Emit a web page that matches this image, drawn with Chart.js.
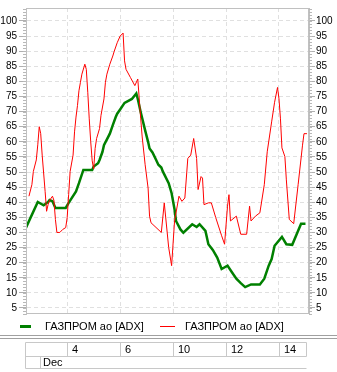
<!DOCTYPE html>
<html lang="ru">
<head>
<meta charset="UTF-8">
<title>ГАЗПРОМ ао [ADX]</title>
<script src="https://cdn.jsdelivr.net/npm/chart.js"></script>
<style>
  html, body { margin: 0; padding: 0; background: #fff; }
  #wrap { width: 337px; height: 372px; }
</style>
</head>
<body>
<div id="wrap"><canvas id="grafico" width="337" height="372"></canvas></div>
<script>
// hour index of the point (9 trading hours per day) and the indicator value
const verdeX = [0, 4, 6, 7.5, 8, 9, 10, 13.5, 14.5, 17, 18, 19.5, 22.5, 23, 24.5, 25, 26, 26.5, 28.5, 29.5,
  30.5, 31, 32, 33.5, 36, 37.5, 38, 39, 40.5, 41.5, 42, 43, 44, 45, 46, 46.5, 48.5, 49.5, 50.5, 51,
  52.5, 53.5, 56.5, 58, 59, 61, 62, 63.5, 65, 66.5, 68.5, 70, 71.5, 73, 74.5, 76.5, 79.5, 81, 82.5,
  83.5, 84.5, 87, 88.5, 90.5, 93.5, 95];
const verdeY = [31.6, 40.1, 39, 40.1, 40.7, 40.3, 38.1, 38.1, 39.8, 43.6, 46.3, 50.7, 50.7, 51.8, 52.9, 54, 56.7, 58.9, 62.7, 65.5,
  68.2, 69.3, 70.7, 72.9, 74.2, 76, 74.2, 69.8, 63.8, 60, 57.8, 56.5, 54.5, 52.4, 51.5, 50.2, 46.3, 43, 37.6, 33.8,
  31, 29.9, 32.7, 31.8, 32.7, 30.5, 26.1, 24.2, 21.7, 17.9, 19, 16.8, 14.7, 13.2, 11.9, 12.8, 12.8, 14.7, 19,
  21.2, 25.6, 28.5, 26.1, 25.9, 32.9, 32.9];

const rojoX = [1, 2, 2.5, 3.5, 4, 4.5, 5, 5.5, 6.5, 7, 7.5, 8, 9, 9.5, 10, 10.5, 11.5, 12.5, 13.5, 14,
  14.5, 15, 16, 16.5, 17, 17.5, 18, 18.5, 19, 20, 20.5, 21, 21.5, 22, 22.5, 23, 23.5, 24, 25, 25.5,
  26.5, 27, 27.5, 28.5, 29.5, 30, 31, 32, 33, 33.5, 34, 35.5, 37, 38, 39, 39.5, 40.5, 41.5, 42, 42.5,
  46, 47, 48.5, 49.5, 50.5, 52, 53, 54, 55, 56, 57, 58, 58.5, 59.5, 60, 60.5, 62, 63, 64.5, 66.5,
  67.5, 68.5, 69, 69.5, 71.5, 73, 75, 76, 76.5, 78, 79.5, 81, 82, 83.5, 84.5, 85.5, 86, 86.5, 87, 88,
  88.5, 89.5, 91, 92.5, 94, 94.5, 95.5];
const rojoY = [42, 45.8, 50.2, 54, 59, 65, 62.7, 55.6, 43.6, 37, 39.2, 40.6, 42, 40.6, 34.3, 30, 30, 31, 31.6, 34.9,
  42.5, 50.2, 55.6, 63.3, 68.2, 72, 76.9, 79.7, 82.4, 85.7, 84, 76.4, 67.6, 60, 53.7, 51, 57.8, 61.1, 64.4, 68.8,
  74.2, 79.7, 82.4, 85.7, 88.4, 90, 92.8, 95, 96, 86.8, 84, 81.3, 78.6, 80.8, 67.6, 61.6, 52.4, 44.7, 35.4, 33.2,
  30, 39.8, 25, 19, 33.8, 42, 40.3, 41.4, 54.5, 55.6, 61.1, 54.5, 44.2, 48.5, 48, 39.2, 39.8, 39.8, 34.9, 28.9,
  26.1, 38.7, 42.5, 33.8, 35.4, 29.4, 29.4, 38.7, 33.8, 35.4, 36.5, 45.8, 56.7, 66.6, 73.1, 78, 74.2, 67.6, 58, 55.1,
  47.4, 34.3, 32.9, 45.8, 58.9, 62.7, 62.7];

// vertical grid positions and the dates shown under them
const fechasX = [14, 32, 50, 68, 86];
const fechas = ['4', '6', '10', '12', '14'];
const mes = 'Dec';
const valoresY = [5, 10, 15, 20, 25, 30, 35, 40, 45, 50, 55, 60, 65, 70, 75, 80, 85, 90, 95, 100];
const serie = 'ГАЗПРОМ ао [ADX]';

const fuente = '"Liberation Sans", Arial, sans-serif';

function puntos(xs, ys) {
  return xs.map((x, i) => ({ x: x, y: ys[i] }));
}

// marco del gráfico, reglas del eje Y, leyenda y tabla de fechas
const extras = {
  id: 'extras',
  afterDraw(chart) {
    const ctx = chart.ctx;
    const a = chart.chartArea;
    const y = chart.scales.y;
    const x = chart.scales.x;
    ctx.save();

    ctx.strokeStyle = '#c0c0c0';
    ctx.lineWidth = 1;
    ctx.strokeRect(Math.round(a.left) + 0.5, Math.round(a.top) + 0.5,
      Math.round(a.right - a.left) - 1, Math.round(a.bottom - a.top) - 1);

    // marcas menores cada unidad
    ctx.strokeStyle = '#b8b8b8';
    ctx.beginPath();
    for (let v = Math.ceil(y.min); v <= y.max; v++) {
      const py = Math.round(y.getPixelForValue(v)) + 0.5;
      ctx.moveTo(a.left - 3, py); ctx.lineTo(a.left, py);
      ctx.moveTo(a.right, py); ctx.lineTo(a.right + 3, py);
    }
    ctx.stroke();

    // leyenda
    const ly = 326.5;
    ctx.lineWidth = 3;
    ctx.strokeStyle = '#008000';
    ctx.beginPath(); ctx.moveTo(20, ly); ctx.lineTo(31, ly); ctx.stroke();
    ctx.lineWidth = 1;
    ctx.strokeStyle = '#ff0000';
    ctx.beginPath(); ctx.moveTo(160, ly); ctx.lineTo(175, ly); ctx.stroke();
    ctx.fillStyle = '#000';
    ctx.font = '11px ' + fuente;
    ctx.textBaseline = 'middle';
    ctx.textAlign = 'left';
    ctx.fillText(serie, 45, ly);
    ctx.fillText(serie, 185, ly);

    // separador doble
    ctx.strokeStyle = '#a0a0a0';
    ctx.beginPath();
    ctx.moveTo(0, 335.5); ctx.lineTo(337, 335.5);
    ctx.moveTo(0, 338.5); ctx.lineTo(337, 338.5);
    ctx.stroke();

    // tabla de fechas
    const t0 = 342.5, t1 = 356.5, t2 = 368.5, izq = 25.5, der = 306.5;
    ctx.strokeStyle = '#c8c8c8';
    ctx.beginPath();
    ctx.moveTo(izq, t0); ctx.lineTo(der, t0);
    ctx.moveTo(izq, t1); ctx.lineTo(der, t1);
    ctx.moveTo(izq, t2); ctx.lineTo(der, t2);
    ctx.moveTo(izq, t0); ctx.lineTo(izq, t2);
    ctx.moveTo(der, t0); ctx.lineTo(der, t1);
    ctx.moveTo(40.5, t1); ctx.lineTo(40.5, t2);
    fechasX.forEach(v => {
      const px = Math.round(x.getPixelForValue(v)) + 0.5;
      ctx.moveTo(px, t0); ctx.lineTo(px, t1);
    });
    ctx.stroke();
    ctx.fillStyle = '#000';
    fechasX.forEach((v, i) => {
      ctx.fillText(fechas[i], Math.round(x.getPixelForValue(v)) + 5, (t0 + t1) / 2);
    });
    ctx.fillText(mes, 43, (t1 + t2) / 2);
    ctx.restore();
  }
};

new Chart(document.getElementById('grafico'), {
  type: 'line',
  data: {
    datasets: [{
      label: serie,
      data: puntos(verdeX, verdeY),
      borderColor: '#008000',
      borderWidth: 2.5,
      pointRadius: 0,
      tension: 0,
      order: 1
    }, {
      label: serie,
      data: puntos(rojoX, rojoY),
      borderColor: '#ff0000',
      borderWidth: 1,
      pointRadius: 0,
      tension: 0,
      order: 0
    }]
  },
  options: {
    responsive: false,
    animation: false,
    events: [],
    layout: { padding: { left: 0, right: 0, top: 5, bottom: 58 } },
    plugins: { legend: { display: false }, tooltip: { enabled: false } },
    scales: {
      x: {
        type: 'linear',
        min: 0,
        max: 96.2,
        afterBuildTicks: s => { s.ticks = fechasX.map(v => ({ value: v })); },
        afterFit: s => { s.height = 0; },
        ticks: { display: false },
        grid: { color: '#e0e0e0', drawTicks: false },
        border: { display: false, dash: [4, 3] }
      },
      y: {
        position: 'left',
        min: 3,
        max: 104.3,
        afterBuildTicks: s => { s.ticks = valoresY.map(v => ({ value: v })); },
        afterFit: s => { s.width = 26; },
        ticks: { color: '#000', padding: 2, font: { family: fuente, size: 10 } },
        grid: { color: '#e0e0e0', tickColor: '#b0b0b0', tickLength: 7 },
        border: { color: '#c0c0c0', dash: [4, 3] }
      },
      y2: {
        position: 'right',
        min: 3,
        max: 104.3,
        afterBuildTicks: s => { s.ticks = valoresY.map(v => ({ value: v })); },
        afterFit: s => { s.width = 28; },
        ticks: { color: '#000', padding: 1, font: { family: fuente, size: 10 } },
        grid: { drawOnChartArea: false, tickColor: '#b0b0b0', tickLength: 6 },
        border: { color: '#c0c0c0' }
      }
    }
  },
  plugins: [extras]
});
</script>
</body>
</html>
